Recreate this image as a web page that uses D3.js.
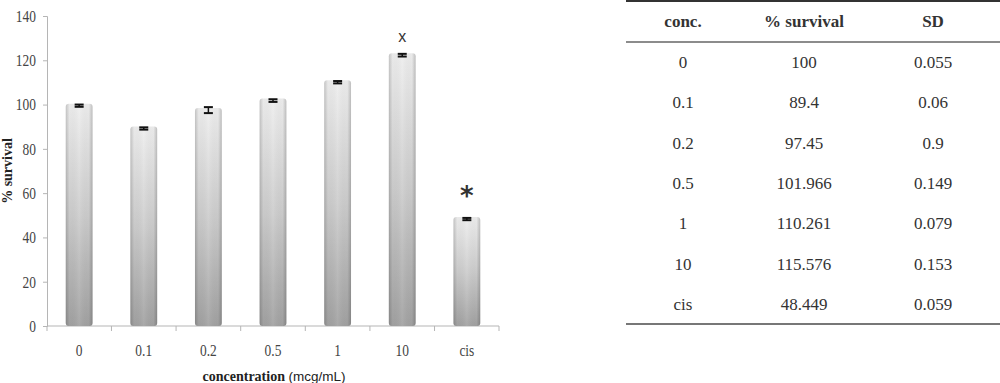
<!DOCTYPE html>
<html><head><meta charset="utf-8">
<script src="https://cdn.jsdelivr.net/npm/d3@7"></script>
<style>body{margin:0;background:#fff;} svg{display:block;}</style>
</head><body>
<svg id="c" width="1000" height="383"></svg>
<script>
const categories = ["0","0.1","0.2","0.5","1","10","cis"];
const barValues = [99.5, 89.2, 97.5, 101.8, 110.1, 122.3, 48.3];
const barSD = [0.055, 0.06, 0.9, 0.149, 0.079, 0.153, 0.059];
const yTicks = [0,20,40,60,80,100,120,140];
const annotations = [{cat:"10", mark:"x"}, {cat:"cis", mark:"*"}];
const tableHeader = ["conc.", "% survival", "SD"];
const tableConc = ["0","0.1","0.2","0.5","1","10","cis"];
const tableSurvival = ["100","89.4","97.45","101.966","110.261","115.576","48.449"];
const tableSD = ["0.055","0.06","0.9","0.149","0.079","0.153","0.059"];

const svg = d3.select("#c");
const x = d3.scaleBand().domain(categories).range([47, 499]).paddingInner(0.585).paddingOuter(0.29);
const y = d3.scaleLinear().domain([0, 140]).range([326, 16]);

const defs = svg.append("defs");
const gv = defs.append("linearGradient").attr("id","gv").attr("x1",0).attr("y1",0).attr("x2",0).attr("y2",1);
gv.append("stop").attr("offset",0).attr("stop-color","#eeeeee");
gv.append("stop").attr("offset",0.5).attr("stop-color","#cdcdcd");
gv.append("stop").attr("offset",1).attr("stop-color","#a2a2a2");
const gh = defs.append("linearGradient").attr("id","gh").attr("x1",0).attr("y1",0).attr("x2",1).attr("y2",0);
gh.append("stop").attr("offset",0).attr("stop-color","#000").attr("stop-opacity",0.18);
gh.append("stop").attr("offset",0.14).attr("stop-color","#000").attr("stop-opacity",0.02);
gh.append("stop").attr("offset",0.5).attr("stop-color","#fff").attr("stop-opacity",0.08);
gh.append("stop").attr("offset",0.86).attr("stop-color","#000").attr("stop-opacity",0.02);
gh.append("stop").attr("offset",1).attr("stop-color","#000").attr("stop-opacity",0.2);

const tickFont = t => t.attr("font-family","Liberation Serif").attr("font-size",16).attr("fill","#444");

// Y axis
const yAxis = d3.axisLeft(y).tickValues(yTicks).tickSize(4).tickPadding(6);
const gy = svg.append("g").attr("transform","translate(47,0)").call(yAxis);
gy.select(".domain").attr("stroke","#b5b5b5");
gy.selectAll(".tick line").attr("stroke","#b5b5b5");
gy.selectAll(".tick text").call(tickFont).attr("x",null).attr("dy","0.33em")
  .attr("transform","translate(-11,0) scale(0.84,1)");

// X axis
const gx = svg.append("g").attr("transform","translate(0,326)");
gx.append("line").attr("x1",47).attr("x2",499).attr("y1",0).attr("y2",0).attr("stroke","#b5b5b5");
gx.selectAll("line.tk").data(d3.range(categories.length + 1)).join("line").attr("class","tk")
  .attr("x1", i => i === categories.length ? 499 : (i === 0 ? 47 : (x(categories[i-1]) + x(categories[i]) + x.bandwidth())/2))
  .attr("x2", function(i){ return d3.select(this).attr("x1"); })
  .attr("y1",0).attr("y2",5).attr("stroke","#b5b5b5");
gx.selectAll("text").data(categories).join("text")
  .attr("transform", d => `translate(${x(d) + x.bandwidth()/2},30) scale(0.84,1)`)
  .attr("text-anchor","middle").call(tickFont)
  .text(d => d);

// Bars
const bars = svg.append("g");
bars.selectAll("rect.b").data(categories).join("rect").attr("class","b")
  .attr("x", d => x(d)).attr("width", x.bandwidth())
  .attr("y", (d,i) => y(barValues[i]) - 2).attr("height", (d,i) => y(0) - y(barValues[i]) + 2)
  .attr("rx", 3).attr("fill","url(#gv)");
bars.selectAll("rect.h").data(categories).join("rect").attr("class","h")
  .attr("x", d => x(d)).attr("width", x.bandwidth())
  .attr("y", (d,i) => y(barValues[i]) - 2).attr("height", (d,i) => y(0) - y(barValues[i]) + 2)
  .attr("rx", 3).attr("fill","url(#gh)");

// Error bars
const eb = svg.append("g").attr("stroke","#111");
categories.forEach((c,i) => {
  const cx = x(c) + x.bandwidth()/2;
  const y1 = y(barValues[i] + barSD[i]), y2 = y(barValues[i] - barSD[i]);
  eb.append("line").attr("x1",cx).attr("x2",cx).attr("y1",y1-1).attr("y2",y2+1).attr("stroke-width",1.5);
  eb.append("line").attr("x1",cx-4.5).attr("x2",cx+4.5).attr("y1",y1-1).attr("y2",y1-1).attr("stroke-width",2);
  eb.append("line").attr("x1",cx-4.5).attr("x2",cx+4.5).attr("y1",y2+1).attr("y2",y2+1).attr("stroke-width",2);
});

// Annotations
annotations.forEach(a => {
  const i = categories.indexOf(a.cat);
  const t = svg.append("text").attr("x", x(a.cat) + x.bandwidth()/2).attr("text-anchor","middle")
    .attr("fill","#333").text(a.mark);
  if (a.mark === "x") t.attr("y", y(barValues[i]) - 13).attr("font-size",16).attr("font-family","Liberation Sans");
  else t.attr("y", y(barValues[i]) - 14).attr("font-size",26).attr("font-weight","bold").attr("font-family","DejaVu Sans");
});

// Axis titles
svg.append("text").attr("transform","translate(12,171) rotate(-90)").attr("text-anchor","middle")
  .attr("font-family","Liberation Serif").attr("font-weight","bold").attr("font-size",14).attr("fill","#222")
  .text("% survival");
const xt = svg.append("text").attr("x",274).attr("y",381).attr("text-anchor","middle").attr("fill","#222");
xt.append("tspan").attr("font-family","Liberation Serif").attr("font-weight","bold").attr("font-size",14).text("concentration ");
xt.append("tspan").attr("font-family","Liberation Sans").attr("font-size",13.5).text("(mcg/mL)");

// Table
const tb = svg.append("g");
const colX = [683, 804, 933];
const rowY = d3.scaleBand().domain(tableConc).range([42, 324]);
tb.append("line").attr("x1",626).attr("x2",1000).attr("y1",1).attr("y2",1).attr("stroke","#333").attr("stroke-width",2);
tb.append("line").attr("x1",626).attr("x2",1000).attr("y1",42).attr("y2",42).attr("stroke","#666").attr("stroke-width",1.3);
tb.append("line").attr("x1",626).attr("x2",1000).attr("y1",324).attr("y2",324).attr("stroke","#777").attr("stroke-width",2);
tableHeader.forEach((h,j) => {
  tb.append("text").attr("x",colX[j]).attr("y",27).attr("text-anchor","middle")
    .attr("font-family","Liberation Serif").attr("font-weight","bold").attr("font-size",17).attr("fill","#333").text(h);
});
const cols = [tableConc, tableSurvival, tableSD];
cols.forEach((col,j) => {
  col.forEach((v,i) => {
    tb.append("text").attr("x",colX[j]).attr("y", rowY(tableConc[i]) + rowY.bandwidth()/2 + 6)
      .attr("text-anchor","middle").attr("font-family","Liberation Serif").attr("font-size",17).attr("fill","#333").text(v);
  });
});
</script>
</body></html>
